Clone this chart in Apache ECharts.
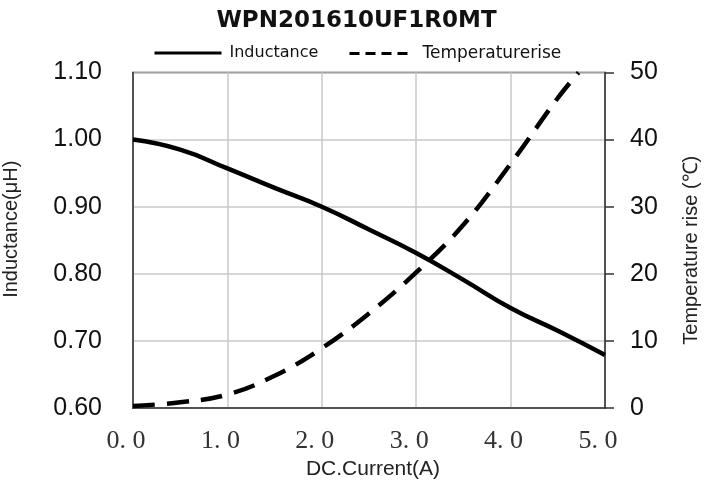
<!DOCTYPE html>
<html><head><meta charset="utf-8">
<script src="https://cdn.jsdelivr.net/npm/echarts@6/dist/echarts.min.js"></script>
<style>html,body{margin:0;padding:0;background:#fff}#c{width:713px;height:490px}</style>
</head><body><div id="c"></div>
<script>
const titleText = 'WPN201610UF1R0MT';
const seriesNames = ['Inductance', 'Temperaturerise'];
const xTicks = [0, 1, 2, 3, 4, 5];
const inductanceX = [0, 0.5, 1, 1.5, 2, 2.5, 3, 3.5, 4, 4.5, 5];
const inductanceY = [1.0, 0.985, 0.957, 0.928, 0.9, 0.866, 0.831, 0.791, 0.749, 0.715, 0.679];
const tempX = [0, 0.5, 1, 1.5, 2, 2.5, 3, 3.5, 4, 4.5, 4.72];
const tempY = [0.3, 0.85, 2.0, 4.8, 8.9, 14.1, 20.2, 27.3, 36.4, 46.2, 50];

const pair = (xs, ys) => xs.map((x, i) => [x, ys[i]]);
const chart = echarts.init(document.getElementById('c'));
const labelFont = 'Liberation Sans, Arial, sans-serif';
chart.setOption({
  animation: false,
  backgroundColor: '#fff',
  title: {
    text: titleText, left: 'center', top: 5, padding: [5, 0, 5, 9],
    textStyle: { fontFamily: 'DejaVu Sans', fontWeight: 'bold', fontSize: 23, color: '#111' }
  },
  legend: [
    { data: [{ name: seriesNames[0] }], left: 148, top: 40, itemWidth: 67, itemHeight: 14,
      itemStyle: { opacity: 0 },
      textStyle: { fontFamily: 'DejaVu Sans', fontSize: 16, color: '#111', padding: [0, 0, 0, 3] },
      lineStyle: { width: 3 } },
    { data: [{ name: seriesNames[1] }], left: 343, top: 40, itemWidth: 62, itemHeight: 14,
      itemStyle: { opacity: 0 },
      textStyle: { fontFamily: 'DejaVu Sans', fontSize: 17, color: '#111', padding: [0, 0, 0, 6] },
      lineStyle: { width: 3, type: [10, 6] } }
  ],
  grid: { left: 133, right: 108, top: 72.5, bottom: 82, show: true, borderColor: '#333', borderWidth: 1.5,
    containLabel: false, outerBoundsMode: 'none' },
  xAxis: {
    type: 'value', min: 0, max: 5, interval: 1,
    name: 'DC.Current(A)', nameLocation: 'middle', nameGap: 44,
    nameTextStyle: { fontFamily: labelFont, fontSize: 21, color: '#222', padding: [0, 0, 0, 8] },
    axisLine: { show: true, lineStyle: { color: '#333', width: 1.5 } },
    axisTick: { show: false },
    splitLine: { show: true, lineStyle: { color: '#c8c8c8', width: 1.5 } },
    axisLabel: {
      margin: 20, fontFamily: 'Liberation Serif, serif', fontSize: 26, color: '#333',
      padding: [0, 14, 0, 0],
      formatter: v => xTicks.includes(v) ? v.toFixed(1).replace('.', '. ') : ''
    }
  },
  yAxis: [
    {
      type: 'value', min: 0.6, max: 1.1, interval: 0.1, position: 'left',
      name: 'Inductance(μH)', nameLocation: 'middle', nameGap: 112, nameRotate: 90,
      nameTextStyle: { fontFamily: labelFont, fontSize: 20, color: '#222', padding: [0, 0, 0, 22] },
      axisLine: { show: true, lineStyle: { color: '#333', width: 1.5 } },
      axisTick: { show: false },
      splitLine: { show: true, lineStyle: { color: '#c8c8c8', width: 1.5 } },
      axisLabel: { margin: 31, fontFamily: labelFont, fontSize: 25, color: '#111', formatter: v => v.toFixed(2) }
    },
    {
      type: 'value', min: 0, max: 50, interval: 10, position: 'right',
      name: 'Temperature rise (℃)', nameLocation: 'middle', nameGap: 76, nameRotate: 90,
      nameTextStyle: { fontFamily: labelFont, fontSize: 20, color: '#222', padding: [0, 20, 0, 0] },
      axisLine: { show: true, lineStyle: { color: '#333', width: 1.5 } },
      axisTick: { show: true, inside: false, length: 9, lineStyle: { color: '#333', width: 1.5 } },
      splitLine: { show: false },
      axisLabel: { margin: 25, fontFamily: labelFont, fontSize: 25, color: '#111' }
    }
  ],
  series: [
    { name: seriesNames[0], type: 'line', yAxisIndex: 0, data: pair(inductanceX, inductanceY),
      smooth: 0.5, symbol: 'none', lineStyle: { color: '#000', width: 4.5 }, itemStyle: { color: '#000' } },
    { name: seriesNames[1], type: 'line', yAxisIndex: 1, data: pair(tempX, tempY),
      smooth: 0.4, symbol: 'none', lineStyle: { color: '#000', width: 4.5, type: [22, 12] }, itemStyle: { color: '#000' } }
  ]
});
</script></body></html>
